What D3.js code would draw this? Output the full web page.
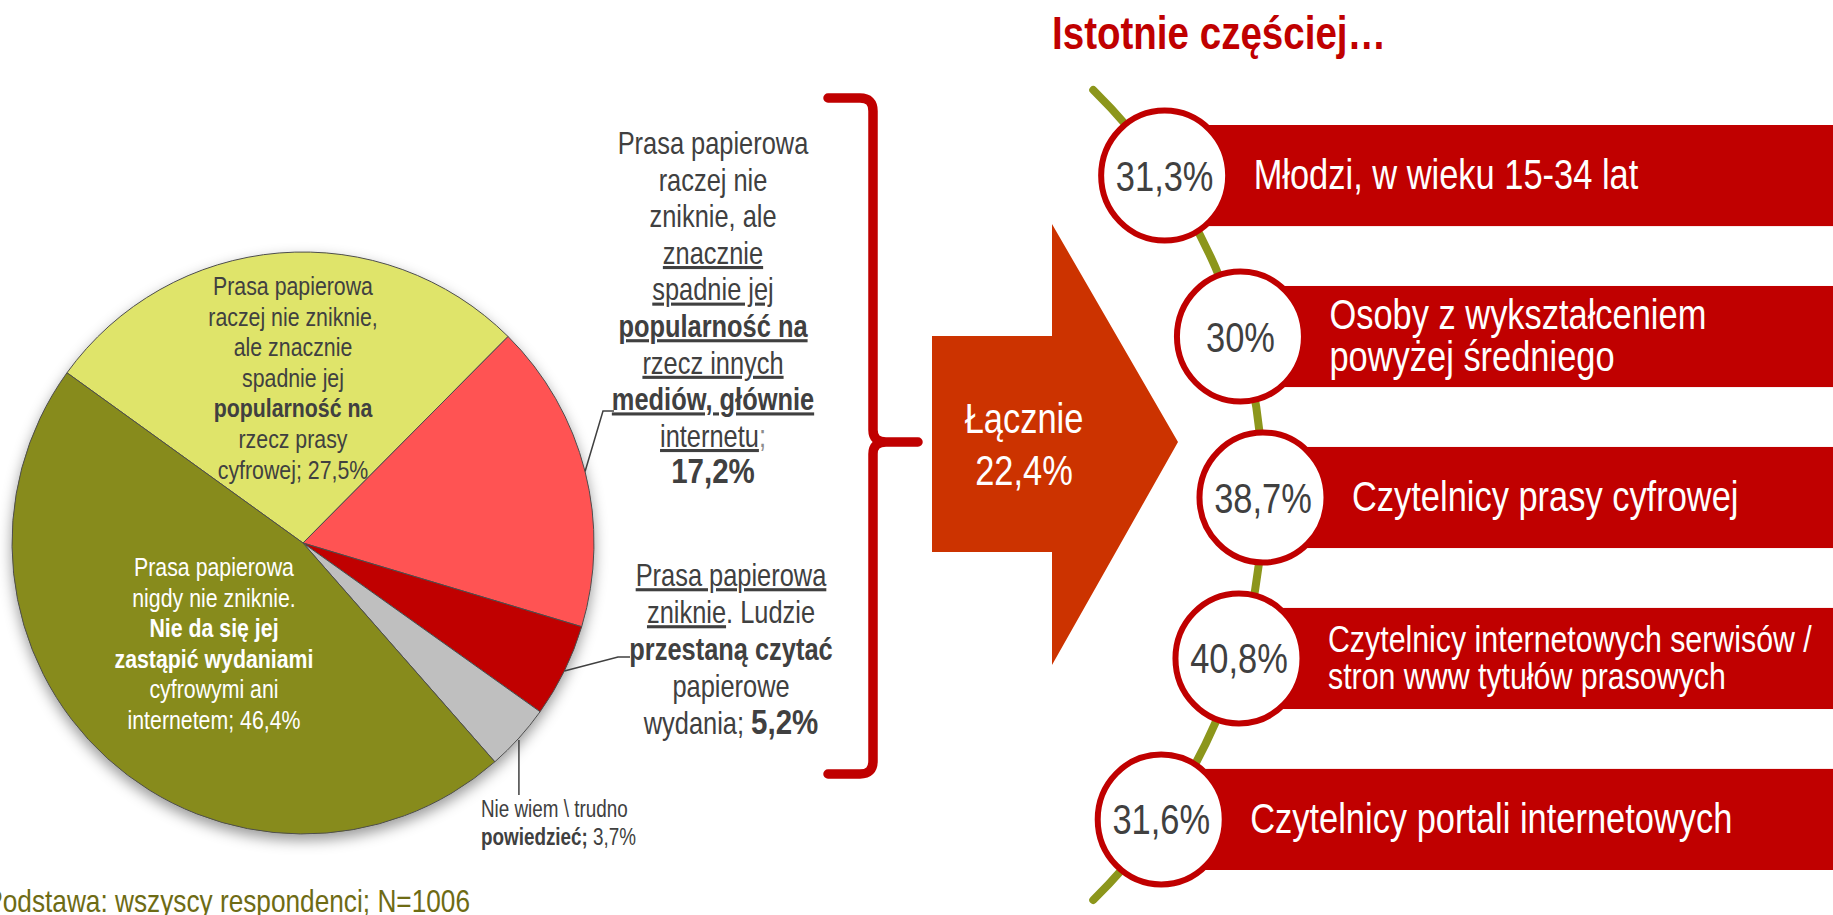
<!DOCTYPE html>
<html>
<head>
<meta charset="utf-8">
<script src="https://cdn.jsdelivr.net/npm/d3@7"></script>
<style>
  html, body { margin: 0; padding: 0; background: #fff; }
  svg { display: block; font-family: 'Liberation Sans', Arial, sans-serif; }
</style>
</head>
<body>
<script>
// pie: opinions about the future of printed press
var pieCategories = ["raczej nie zniknie, na rzecz prasy cyfrowej", "raczej nie zniknie, na rzecz innych mediów",
  "zniknie", "nie wiem", "nigdy nie zniknie"];
var pieValues = [27.5, 17.2, 5.2, 3.7, 46.4];
var pieColors = ["#dfe46a", "#ff5353", "#c00000", "#bfbfbf", "#878b1a"];

// right side: groups answering significantly more often
var groupLines = [
  ["Młodzi, w wieku 15-34 lat"],
  ["Osoby z wykształceniem", "powyżej średniego"],
  ["Czytelnicy prasy cyfrowej"],
  ["Czytelnicy internetowych serwisów /", "stron www tytułów prasowych"],
  ["Czytelnicy portali internetowych"]
];
var groupShares = [31.3, 30, 38.7, 40.8, 31.6];

var NARROW = 0.82;          // fake Arial Narrow
var TXT = "#404040";
var RED = "#c00000";

function fmt(v) {
  return (Number.isInteger(v) ? String(v) : v.toFixed(1)).replace(".", ",") + "%";
}

// one line per entry, each line a list of runs {t, b, u, s}
function textBlock(g, x, y0, lh, size, anchor, fill, lines) {
  lines.forEach(function (runs, i) {
    var t = g.append("text")
      .attr("transform", "translate(" + x + "," + (y0 + i * lh) + ") scale(" + NARROW + ",1)")
      .attr("text-anchor", anchor)
      .attr("font-size", size)
      .attr("fill", fill)
      .style("white-space", "pre");
    runs.forEach(function (r) {
      t.append("tspan").text(r.t)
        .attr("font-weight", r.b ? "bold" : null)
        .attr("font-size", r.s || null)
        .attr("text-decoration", r.u ? "underline" : null)
        .attr("fill", r.c || null);
    });
  });
}

var W = 1833, H = 915;
var svg = d3.select("body").append("svg").attr("width", W).attr("height", H);
svg.append("rect").attr("width", W).attr("height", H).attr("fill", "#fff");

var defs = svg.append("defs");
var f = defs.append("filter").attr("id", "shadow")
  .attr("x", "-20%").attr("y", "-20%").attr("width", "140%").attr("height", "140%");
f.append("feDropShadow").attr("dx", 0).attr("dy", 6)
  .attr("stdDeviation", 7).attr("flood-color", "#000").attr("flood-opacity", 0.4);

// ---------------- pie ----------------
var pieCx = 303, pieCy = 543, pieR = 291;
var start = -54.2 * Math.PI / 180;
var pie = d3.pie().sort(null).startAngle(start).endAngle(start + 2 * Math.PI);
var arcs = pie(pieValues);
var arc = d3.arc().innerRadius(0).outerRadius(pieR);
var color = d3.scaleOrdinal().domain(pieCategories).range(pieColors);

var pg = svg.append("g").attr("transform", "translate(" + pieCx + "," + pieCy + ")");
pg.append("g").attr("filter", "url(#shadow)")
  .selectAll("path")
  .data(arcs)
  .enter().append("path")
  .attr("d", arc)
  .attr("fill", function (d, i) { return color(pieCategories[i]); })
  .attr("stroke", "#4d4d4d")
  .attr("stroke-width", 1);

function edgePoint(d) {
  var a = (d.startAngle + d.endAngle) / 2;
  return [pieCx + pieR * Math.sin(a), pieCy - pieR * Math.cos(a)];
}

// leader lines
var leaders = svg.append("g").attr("fill", "none").attr("stroke", TXT).attr("stroke-width", 1.5);
var p1 = edgePoint(arcs[1]);
leaders.append("path").attr("d", "M" + p1 + "L603,411H614");
var p2 = edgePoint(arcs[2]);
leaders.append("path").attr("d", "M" + p2 + "L618,657H630");
var p3 = edgePoint(arcs[3]);
leaders.append("path").attr("d", "M" + p3[0] + "," + (p3[1] + 2) + "V795");

var lab = svg.append("g");
textBlock(lab, 293, 295, 30.6, 26, "middle", TXT, [
  [{t: "Prasa papierowa"}],
  [{t: "raczej nie zniknie,"}],
  [{t: "ale znacznie"}],
  [{t: "spadnie jej"}],
  [{t: "popularność na", b: 1}],
  [{t: "rzecz prasy"}],
  [{t: "cyfrowej; " + fmt(pieValues[0])}]
]);
textBlock(lab, 214, 576, 30.5, 26, "middle", "#fff", [
  [{t: "Prasa papierowa"}],
  [{t: "nigdy nie zniknie."}],
  [{t: "Nie da się jej", b: 1}],
  [{t: "zastąpić wydaniami", b: 1}],
  [{t: "cyfrowymi ani"}],
  [{t: "internetem; " + fmt(pieValues[4])}]
]);
textBlock(lab, 481, 817, 28, 23, "start", TXT, [
  [{t: "Nie wiem \\ trudno"}],
  [{t: "powiedzieć;", b: 1}, {t: " " + fmt(pieValues[3])}]
]);
textBlock(lab, 713, 154, 36.6, 31, "middle", TXT, [
  [{t: "Prasa papierowa"}],
  [{t: "raczej nie"}],
  [{t: "zniknie, ale"}],
  [{t: "znacznie", u: 1}],
  [{t: "spadnie jej", u: 1}],
  [{t: "popularność na", u: 1, b: 1}],
  [{t: "rzecz innych", u: 1}],
  [{t: "mediów, głównie", u: 1, b: 1}],
  [{t: "internetu", u: 1}, {t: ";", c: "#8c8c8c"}],
  [{t: fmt(pieValues[1]), b: 1, s: 36}]
]);
textBlock(lab, 731, 586, 37, 31, "middle", TXT, [
  [{t: "Prasa papierowa", u: 1}],
  [{t: "zniknie", u: 1}, {t: ". Ludzie"}],
  [{t: "przestaną czytać", b: 1}],
  [{t: "papierowe"}],
  [{t: "wydania; "}, {t: fmt(pieValues[2]), b: 1, s: 36}]
]);

// footer
textBlock(svg, 470, 912, 0, 32, "end", "#6e6b14", [[{t: "Podstawa: wszyscy respondenci; N=1006"}]]);

// ---------------- brace + arrow ----------------
svg.append("path")
  .attr("d", "M828,98H860Q873,98 873,111V430Q873,442 886,442H918M886,442Q873,442 873,454V761Q873,774 860,774H828")
  .attr("fill", "none").attr("stroke", RED).attr("stroke-width", 9.5)
  .attr("stroke-linecap", "round").attr("stroke-linejoin", "round");

svg.append("path")
  .attr("d", "M932,336H1052V224L1178,442L1052,665V552H932Z")
  .attr("fill", "#cc3300");

var total = pieValues[1] + pieValues[2];
textBlock(svg, 1024, 433, 52, 42, "middle", "#fff", [[{t: "Łącznie"}], [{t: fmt(+total.toFixed(1))}]]);

// title
textBlock(svg, 1052, 49, 0, 47, "start", RED, [[{t: "Istotnie częściej…", b: 1}]]);

// ---------------- right side ----------------
var y = d3.scaleBand().domain(d3.range(groupLines.length)).range([125, 870]).paddingInner(0.372);
var arcCx = 695, arcCy = 495, arcR = 568;
function xOnArc(yy) { return arcCx + Math.sqrt(arcR * arcR - (yy - arcCy) * (yy - arcCy)); }
function cyOf(i) { return y(i) + y.bandwidth() / 2; }

var curveTop = 90, curveBottom = 900;
svg.append("path")
  .attr("d", "M" + xOnArc(curveTop) + "," + curveTop +
    "A" + arcR + "," + arcR + " 0 0 1 " + xOnArc(curveBottom) + "," + curveBottom)
  .attr("fill", "none").attr("stroke", "#8c961b").attr("stroke-width", 8).attr("stroke-linecap", "round");

var rows = svg.append("g").selectAll("g")
  .data(groupShares)
  .enter().append("g");

rows.append("rect")
  .attr("x", function (d, i) { return xOnArc(cyOf(i)); })
  .attr("y", function (d, i) { return y(i); })
  .attr("width", function (d, i) { return W - xOnArc(cyOf(i)); })
  .attr("height", y.bandwidth())
  .attr("fill", RED);

rows.append("ellipse")
  .attr("cx", function (d, i) { return xOnArc(cyOf(i)); })
  .attr("cy", function (d, i) { return cyOf(i); })
  .attr("rx", 63.5).attr("ry", 65)
  .attr("fill", "#fff").attr("stroke", RED).attr("stroke-width", 6);

rows.each(function (d, i) {
  var g = d3.select(this);
  var cx = xOnArc(cyOf(i)), cy = cyOf(i);
  textBlock(g, cx, cy + 15, 0, 42, "middle", TXT, [[{t: fmt(d)}]]);
  var lines = groupLines[i];
  var maxLen = d3.max(lines, function (l) { return l.length; });
  var size = lines.length > 1 && maxLen > 30 ? 37 : 42;
  var lh = size;
  var y0 = cy + size * 0.32 - (lines.length - 1) / 2 * lh;
  textBlock(g, cx + 89, y0, lh, size, "start", "#fff", lines.map(function (l) { return [{t: l}]; }));
});
</script>
</body>
</html>
